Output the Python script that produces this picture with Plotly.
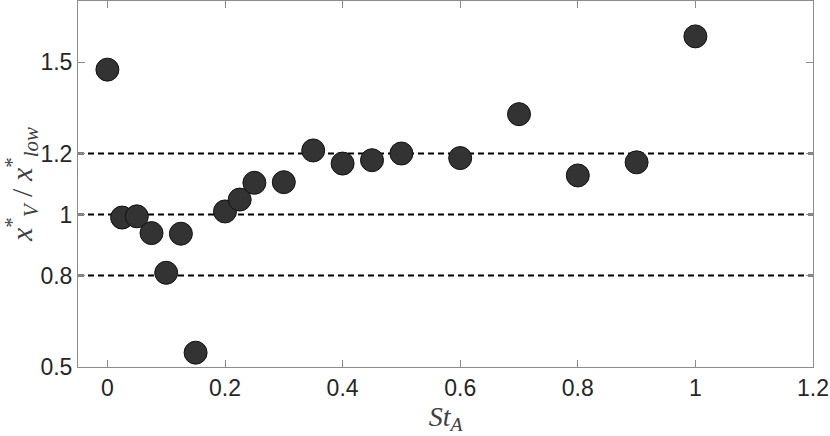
import plotly.graph_objects as go

st_a = [0, 0.025, 0.05, 0.075, 0.1, 0.125, 0.15, 0.2, 0.225, 0.25, 0.3,
        0.35, 0.4, 0.45, 0.5, 0.6, 0.7, 0.8, 0.9, 1.0]
ratio = [1.475, 0.990, 0.994, 0.939, 0.809, 0.937, 0.547, 1.010, 1.049, 1.104, 1.106,
         1.210, 1.167, 1.178, 1.200, 1.185, 1.329, 1.128, 1.171, 1.584]
ref_levels = [0.8, 1.0, 1.2]
x_ticks = [0, 0.2, 0.4, 0.6, 0.8, 1, 1.2]
y_ticks = [0.5, 0.8, 1, 1.2, 1.5]
y_tick_labels = ["0.5", "0.8", "1", "1.2", "1.5"]

fig = go.Figure()
for lvl in ref_levels:
    fig.add_hline(y=lvl, line=dict(color="black", width=2, dash="6px,4px"), layer="below")

fig.add_trace(go.Scatter(
    x=st_a, y=ratio, mode="markers",
    marker=dict(size=23, color="#333333", line=dict(color="#111111", width=1)),
    showlegend=False, cliponaxis=False,
))

axis_common = dict(
    showgrid=False, zeroline=False, showline=True, linecolor="#8c8c8c", linewidth=1,
    mirror="ticks", ticks="inside", ticklen=7, tickcolor="#8c8c8c", automargin=False,
    tickfont=dict(family="Liberation Sans, Arial, sans-serif", size=23, color="#262626"),
)

fig.update_xaxes(range=[-0.05, 1.2], tickvals=x_ticks,
                 ticktext=[str(v) for v in x_ticks],
                 title=dict(text="<i>St</i><sub><i>A</i></sub>",
                            font=dict(family="Liberation Serif, Times New Roman, serif", size=28, color="#404040"),
                            standoff=2),
                 **axis_common)
fig.update_yaxes(range=[0.5, 1.7], tickvals=y_ticks, ticktext=y_tick_labels,
                 title=dict(text="<i>x</i><sup>*</sup><sub><i>V</i></sub> / <i>x</i><sup>*</sup><sub><i>low</i></sub>",
                            font=dict(family="Liberation Serif, Times New Roman, serif", size=30, color="#404040"),
                            standoff=0),
                 **axis_common)

fig.update_layout(
    width=830, height=436,
    margin=dict(l=78, r=17, t=1, b=69),
    plot_bgcolor="white", paper_bgcolor="white",
)

fig.write_html("out.html", config={"displayModeBar": False},
               post_script="document.body.style.margin='0';document.body.style.overflow='hidden';")
